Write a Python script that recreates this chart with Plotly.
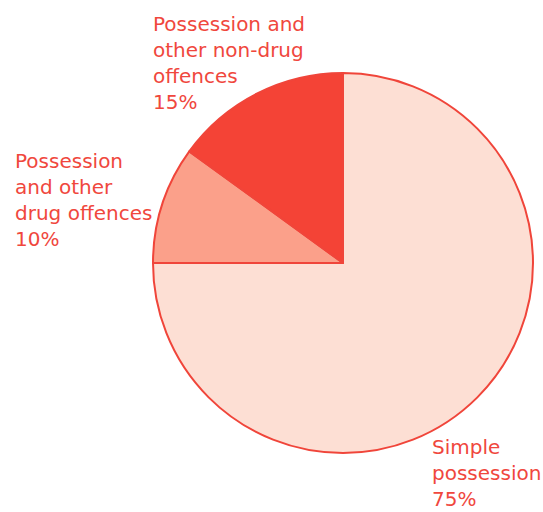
import plotly.graph_objects as go

labels = ["Simple possession", "Possession and other drug offences", "Possession and other non-drug offences"]
values = [75, 10, 15]
colors = ["#FDDFD4", "#FBA08A", "#F44336"]
label_texts = ["Simple<br>possession<br>75%",
               "Possession<br>and other<br>drug offences<br>10%",
               "Possession and<br>other non-drug<br>offences<br>15%"]
label_pos = [(431, 512, "bottom"), (14, 148, "top"), (152, 11, "top")]

W, H = 543, 512
fig = go.Figure(go.Pie(
    labels=labels, values=values, sort=False, direction="clockwise", rotation=0,
    marker=dict(colors=colors, line=dict(color="#F0453A", width=2)),
    textinfo="none", hoverinfo="label+percent",
    domain=dict(x=[153 / W, 533 / W], y=[1 - 453 / H, 1 - 73 / H]),
))
for t, (px, py, ya) in zip(label_texts, label_pos):
    fig.add_annotation(text=t, x=px / W, y=1 - py / H, xref="paper", yref="paper",
                       xanchor="left", yanchor=ya, align="left", showarrow=False,
                       borderpad=0,
                       font=dict(family="DejaVu Sans", size=20, color="#F0473D"))
fig.update_layout(width=W, height=H, margin=dict(l=0, r=0, t=0, b=0),
                  showlegend=False, paper_bgcolor="white")
fig.write_html("out.html")
